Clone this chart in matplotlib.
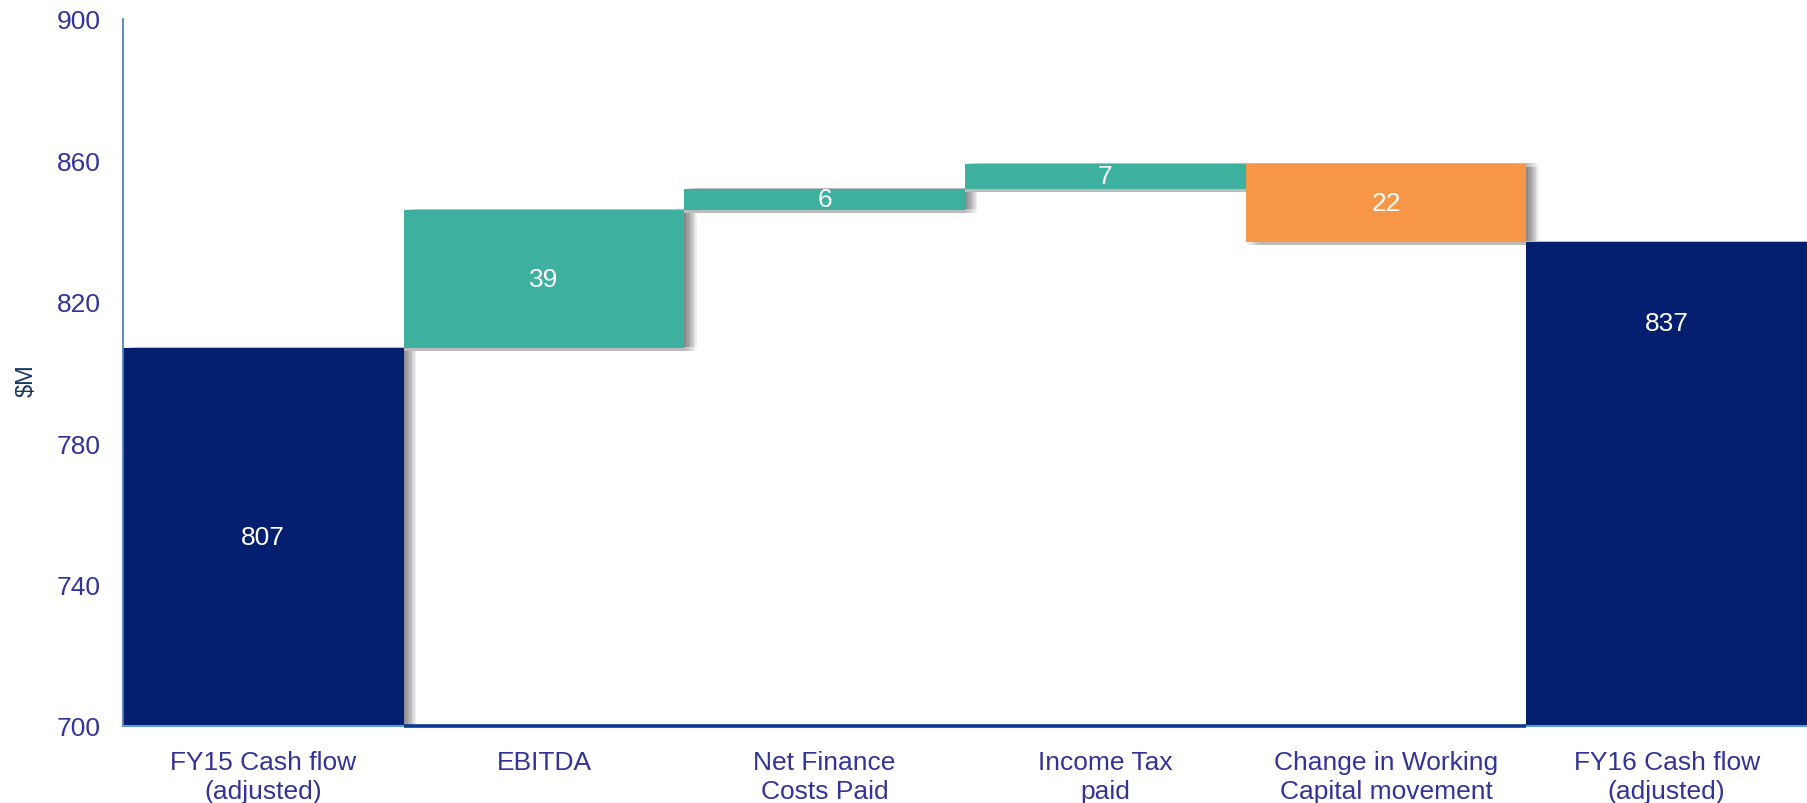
import matplotlib
matplotlib.use('Agg')
import numpy as np
import matplotlib.pyplot as plt
import matplotlib.patheffects as pe

plt.rcParams['font.family'] = ['Liberation Sans', 'DejaVu Sans']

categories = ['FY15 Cash flow\n(adjusted)', 'EBITDA', 'Net Finance\nCosts Paid',
              'Income Tax\npaid', 'Change in Working\nCapital movement',
              'FY16 Cash flow\n(adjusted)']
opening = 807
changes = [39, 6, 7, -22]
closing = 837

NAVY = '#041f6f'
TEAL = '#3eb0a0'
ORANGE = '#f79646'
TEXT = '#333399'


def soft_shadow():
    effects = []
    for dx in range(1, 10):
        for dy in (1.5, -1.5):
            effects.append(pe.SimplePatchShadow(offset=(dx, -1 + dy),
                                                shadow_rgbFace='k', alpha=0.032))
    effects.append(pe.Normal())
    return effects


def plot_waterfall():
    running = opening + np.concatenate(([0], np.cumsum(changes)))
    bottoms = [700]
    heights = [opening - 700]
    colors = [NAVY]
    for i, c in enumerate(changes):
        bottoms.append(min(running[i], running[i + 1]))
        heights.append(abs(c))
        colors.append(TEAL if c > 0 else ORANGE)
    bottoms.append(700)
    heights.append(closing - 700)
    colors.append(NAVY)

    fig = plt.figure(figsize=(18.07, 8.04), dpi=100)
    ax = fig.add_axes([123 / 1807, 77 / 804, 1684 / 1807, 707 / 804])
    x = np.arange(len(categories))
    bars = ax.bar(x, heights, bottom=bottoms, width=1.0, color=colors,
                  linewidth=0, zorder=2)
    for b in bars:
        b.set_path_effects(soft_shadow())

    labels = [opening] + [abs(c) for c in changes] + [closing]
    for i, (b, h, lab) in enumerate(zip(bottoms, heights, labels)):
        y = b + h / 2.0
        if i == len(labels) - 1:
            y = b + h - 23
        ax.text(x[i], y, str(lab), ha='center', va='center', color='white',
                fontsize=19, zorder=4)

    ax.set_xlim(-0.5, len(categories) - 0.5)
    ax.set_ylim(700, 900)
    ax.set_yticks(np.arange(700, 901, 40))
    ax.set_xticks(x)
    ax.set_xticklabels(categories, linespacing=1.3)
    ax.tick_params(axis='y', length=0, pad=16, labelsize=19, labelcolor=TEXT)
    ax.tick_params(axis='x', length=0, pad=17, labelsize=19, labelcolor=TEXT)
    ax.set_ylabel('$M', fontsize=17, color='#17375e')
    ax.yaxis.set_label_coords(-0.0505, 0.49)

    for side in ('top', 'right'):
        ax.spines[side].set_visible(False)
    ax.spines['left'].set_color('#4f81bd')
    ax.spines['left'].set_linewidth(1.3)
    ax.spines['bottom'].set_color('#5b9bd5')
    ax.spines['bottom'].set_linewidth(1.5)
    ax.hlines(700, 0.5, len(categories) - 1.5, colors='#0a3a8c',
              linewidth=2.6, zorder=3, clip_on=False)

    fig.savefig('out.png', dpi=100)


if __name__ == '__main__':
    plot_waterfall()
